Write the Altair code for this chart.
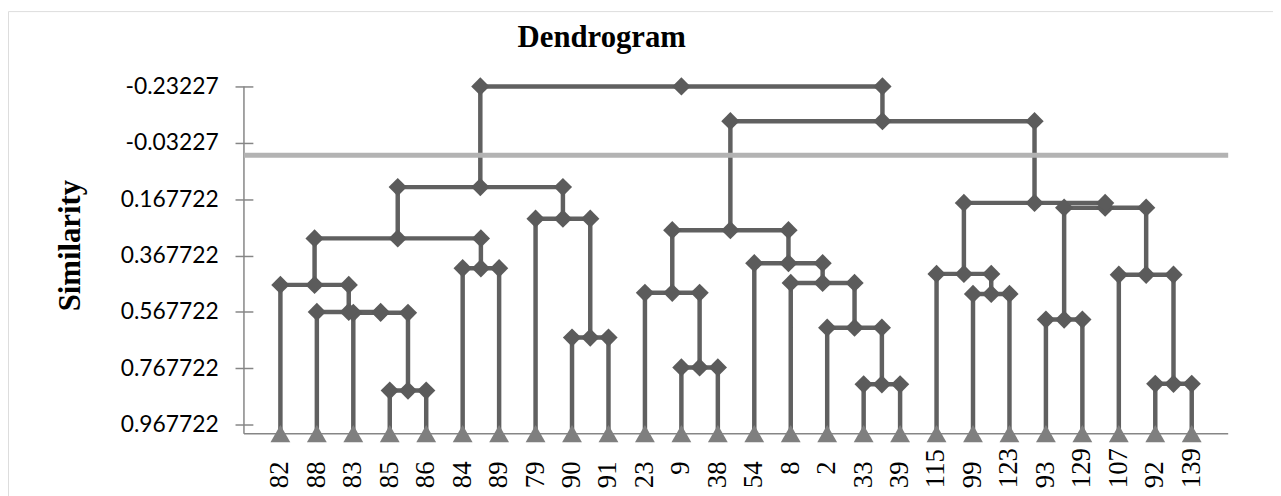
import altair as alt
import pandas as pd

# ---------------- data ----------------
LEAVES = ["82", "88", "83", "85", "86", "84", "89", "79", "90", "91", "23", "9", "38",
          "54", "8", "2", "33", "39", "115", "99", "123", "93", "129", "107", "92", "139"]

NODE_IDS = ["n1", "n2", "n3", "n4", "n5", "n6", "n7", "n8", "n9", "n10", "n11", "n12", "n13",
            "n14", "n15", "n16", "n17", "n18", "n19", "n20", "n21", "n22", "n23", "n24", "n25"]
LEFT_CHILD = ["85", "83", "88", "82", "84", "n4", "90", "79", "n6", "9", "23", "33", "2",
              "8", "54", "n11", "99", "115", "93", "92", "107", "n19", "n18", "n16", "n9"]
RIGHT_CHILD = ["86", "n1", "n2", "n3", "89", "n5", "91", "n7", "n8", "38", "n10", "39", "n12",
               "n13", "n14", "n15", "123", "n17", "129", "139", "n20", "n21", "n22", "n23", "n24"]
NODE_LEVEL = [0.847, 0.571, 0.568, 0.472, 0.413, 0.307, 0.659, 0.237, 0.125, 0.765, 0.500, 0.825, 0.624,
              0.465, 0.395, 0.278, 0.504, 0.433, 0.595, 0.823, 0.436, 0.198, 0.181, -0.109, -0.23227]

Y_TICKS = [-0.23227, -0.03227, 0.167722, 0.367722, 0.567722, 0.767722, 0.967722]
LEAF_LEVEL = 1.0
CUT_LEVEL = 0.012
AXIS_TOP = -0.23227
X_START, X_END = 0, 27

# ---------------- build tables ----------------
pos = {name: i + 1 for i, name in enumerate(LEAVES)}
lvl = {name: LEAF_LEVEL for name in LEAVES}
line_rows, node_rows = [], []
for nid, l, r, h in zip(NODE_IDS, LEFT_CHILD, RIGHT_CHILD, NODE_LEVEL):
    xl, xr = pos[l], pos[r]
    xm = (xl + xr) / 2
    pos[nid] = xm
    lvl[nid] = h
    for k, (x, y) in enumerate([(xl, lvl[l]), (xl, h), (xr, h), (xr, lvl[r])]):
        line_rows.append({"node": nid, "order": k, "x": x, "y": y})
    for x in (xl, xm, xr):
        node_rows.append({"node": nid, "x": x, "y": h})

lines_df = pd.DataFrame(line_rows)
nodes_df = pd.DataFrame(node_rows)
leaf_df = pd.DataFrame({"leaf": LEAVES, "x": [pos[n] for n in LEAVES], "y": [LEAF_LEVEL] * len(LEAVES)})
yline_df = pd.DataFrame({"x": [X_START], "y": [AXIS_TOP], "y2": [LEAF_LEVEL]})
xline_df = pd.DataFrame({"x": [X_START], "x2": [X_END], "y": [LEAF_LEVEL]})
cut_df = pd.DataFrame({"x": [X_START], "x2": [X_END], "y": [CUT_LEVEL]})

# ---------------- layout ----------------
W, H = 1276, 490            # view = the bordered frame
PX_X, PX_Y = 36.77, 284.2   # pixels per data unit
AXIS_X_PX = 238             # y-axis line position inside the frame
TOP_PX = 76                 # top tick position inside the frame
x_min = X_START - AXIS_X_PX / PX_X
x_max = x_min + W / PX_X
y_min = AXIS_TOP - TOP_PX / PX_Y
y_max = y_min + H / PX_Y

xs = alt.Scale(domain=[x_min, x_max], nice=False, zero=False)
ys = alt.Scale(domain=[y_min, y_max], nice=False, zero=False, reverse=True)

# one axis whose 18px ticks cross the axis line (9px each side)
y_axis = alt.Axis(values=Y_TICKS, labelExpr="toString(datum.value)", orient="left",
                  offset=-(AXIS_X_PX + 9), domain=False, ticks=True, tickSize=18, tickWidth=1.5,
                  tickColor="#868686", grid=False, labelPadding=17, labelFont="Lato",
                  labelFontSize=23, labelColor="#000000", labelOverlap=False, labelFlush=False,
                  title="Similarity", titleFont="Liberation Serif", titleFontSize=31,
                  titleFontWeight="bold", titleColor="#000000", titleAngle=270,
                  titleAlign="center", titleBaseline="alphabetic", titleX=-175, titleY=236)

yline = alt.Chart(yline_df).mark_rule(color="#868686", strokeWidth=1.5).encode(
    x=alt.X("x:Q", scale=xs, axis=None),
    y=alt.Y("y:Q", scale=ys, axis=y_axis),
    y2="y2:Q",
)
xline = alt.Chart(xline_df).mark_rule(color="#868686", strokeWidth=1.5).encode(
    x=alt.X("x:Q", scale=xs, axis=None),
    x2="x2:Q",
    y=alt.Y("y:Q", scale=ys, axis=None),
)
tree = alt.Chart(lines_df).mark_line(color="#606060", strokeWidth=4.5, strokeJoin="miter",
                                     strokeCap="butt").encode(
    x=alt.X("x:Q", scale=xs, axis=None),
    y=alt.Y("y:Q", scale=ys, axis=None),
    detail="node:N",
    order="order:Q",
)
cut = alt.Chart(cut_df).mark_rule(color="#b3b3b3", strokeWidth=5).encode(
    x=alt.X("x:Q", scale=xs, axis=None),
    x2="x2:Q",
    y=alt.Y("y:Q", scale=ys, axis=None),
)
diamonds = alt.Chart(nodes_df).mark_point(shape="diamond", filled=True, size=340,
                                          color="#5b5b5b", opacity=1).encode(
    x=alt.X("x:Q", scale=xs, axis=None),
    y=alt.Y("y:Q", scale=ys, axis=None),
)
triangles = alt.Chart(leaf_df).mark_point(shape="triangle-up", filled=True, size=400,
                                          color="#7f7f7f", opacity=1).encode(
    x=alt.X("x:Q", scale=xs, axis=None),
    y=alt.Y("y:Q", scale=ys, axis=None),
)
# leaf labels, rotated to read upward; multi-digit labels end 55px below the axis line,
# single-digit labels sit level with the tops of the two-digit ones
label_style = dict(angle=270, align="left", baseline="middle", font="Liberation Serif",
                   fontSize=27, color="#000000")
label_enc = dict(x=alt.X("x:Q", scale=xs, axis=None),
                 y=alt.Y("y:Q", scale=ys, axis=None),
                 text="leaf:N")
labels_long = alt.Chart(leaf_df).transform_filter("length(datum.leaf) > 1").mark_text(
    dx=-55, **label_style).encode(**label_enc)
labels_short = alt.Chart(leaf_df).transform_filter("length(datum.leaf) == 1").mark_text(
    dx=-41.5, **label_style).encode(**label_enc)

chart = alt.layer(yline, xline, tree, cut, diamonds, triangles, labels_long, labels_short).resolve_axis(
    x="independent", y="independent"
).properties(
    width=W,
    height=H,
    autosize=alt.AutoSizeParams(type="none"),
    padding={"left": 0, "top": 1, "right": 0, "bottom": 0},
    title=alt.TitleParams(text="Dendrogram", anchor="start", frame="group", dx=514, offset=-67,
                          font="Liberation Serif", fontSize=31, fontWeight="bold",
                          baseline="alphabetic", color="#000000"),
).configure_view(
    stroke="#8c8c8c", strokeWidth=1.5
).configure(
    background="white"
)

chart.save("out.html", embed_options={"renderer": "svg", "actions": False})
